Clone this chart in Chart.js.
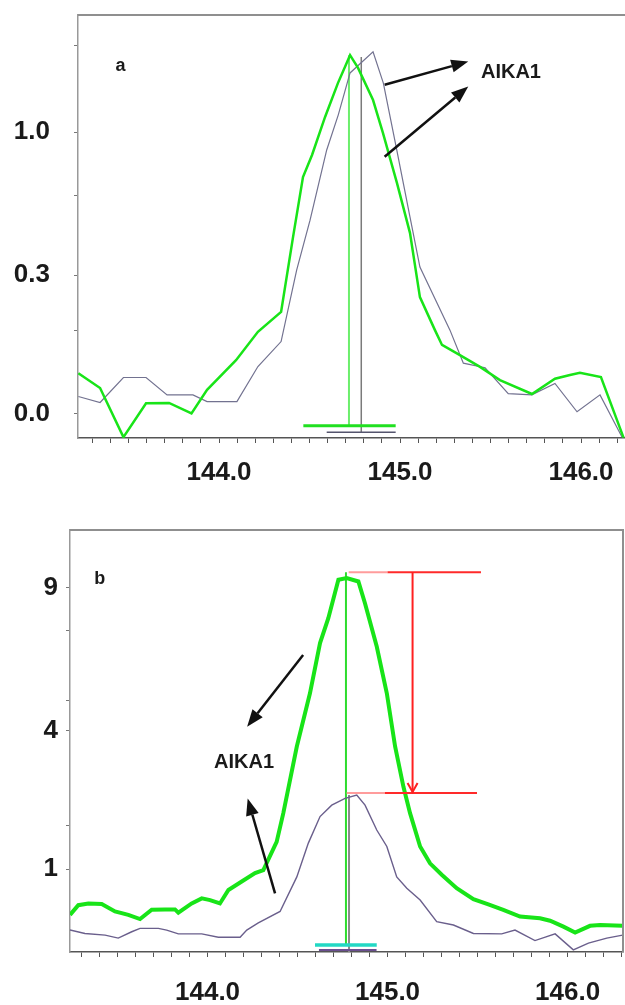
<!DOCTYPE html>
<html>
<head>
<meta charset="utf-8">
<script src="https://cdn.jsdelivr.net/npm/chart.js@4.4.1/dist/chart.umd.min.js"></script>
<style>
  html, body { margin: 0; padding: 0; background: #fff; }
  body { width: 625px; height: 1005px; position: relative; overflow: hidden; }
  canvas { position: absolute; left: 0; }
  #panelA { top: 0; }
  #panelB { top: 505px; }
</style>
</head>
<body>
<canvas id="panelA" width="625" height="500"></canvas>
<canvas id="panelB" width="625" height="500"></canvas>
<script>
// ---- panel a (m/z vs relative intensity, axis units 0..100) ----
const mzGreenA = [143.223, 143.343, 143.472, 143.597, 143.724, 143.848, 143.934, 144.094, 144.215, 144.343,
  144.409, 144.464, 144.514, 144.586, 144.657, 144.724, 144.768, 144.851, 144.906, 144.983,
  145.055, 145.110, 145.193, 145.232, 145.331, 145.442, 145.552, 145.729, 145.856, 145.939,
  145.994, 146.110, 146.235];
const intGreenA = [15.3, 11.8, 0.2, 8.2, 8.3, 5.8, 11.4, 18.4, 25.1, 29.8,
  47.5, 61.7, 66.9, 75.9, 83.9, 90.5, 87.5, 79.9, 72.1, 60.3,
  48.5, 33.3, 25.5, 22.0, 19.6, 16.8, 13.7, 10.4, 14.0, 14.9,
  15.4, 14.4, 0.1];
const mzGrayA = [143.223, 143.343, 143.472, 143.597, 143.713, 143.856, 143.934, 144.099, 144.215, 144.343,
  144.429, 144.503, 144.595, 144.659, 144.724, 144.851, 144.908, 144.982, 145.055, 145.110,
  145.276, 145.350, 145.470, 145.598, 145.728, 145.856, 145.978, 146.105, 146.227];
const intGrayA = [9.8, 8.4, 14.3, 14.3, 10.2, 10.2, 8.6, 8.6, 16.9, 22.8,
  39.7, 51.5, 68.1, 76.4, 86.3, 91.3, 83.9, 68.1, 52.3, 40.4,
  25.5, 17.7, 16.6, 10.5, 10.2, 12.9, 6.2, 10.2, 0.2];
// centroid sticks and interval bars (green, gray)
const stickXA = [144.718, 144.786];
const stickTopA = [90.5, 90.1];
const stickBottomA = [2.9, 1.4];
const barFromA = [144.466, 144.595];
const barToA = [144.976, 144.976];
const barLevelA = [2.9, 1.35];

// ---- panel b ----
const mzGreenB = [143.236, 143.282, 143.338, 143.412, 143.486, 143.560, 143.625, 143.690, 143.764, 143.819,
  143.838, 143.912, 143.968, 144.014, 144.069, 144.116, 144.190, 144.264, 144.310, 144.384,
  144.421, 144.496, 144.569, 144.625, 144.671, 144.727, 144.773, 144.838, 144.875, 144.940,
  144.996, 145.042, 145.088, 145.125, 145.181, 145.236, 145.301, 145.384, 145.477, 145.560,
  145.643, 145.736, 145.847, 145.903, 145.977, 146.042, 146.125, 146.181, 146.306];
const intGreenB = [8.8, 11.1, 11.5, 11.4, 9.6, 8.8, 7.8, 10.0, 10.1, 10.1,
  9.3, 11.5, 12.7, 12.3, 11.5, 14.7, 16.7, 18.7, 19.4, 26.1,
  32.9, 48.7, 61.3, 73.2, 79.1, 88.2, 88.6, 87.8, 82.6, 72.4,
  61.3, 48.7, 39.2, 32.9, 25.0, 21.0, 18.3, 15.1, 12.5, 11.3,
  10.0, 8.4, 8.0, 7.4, 6.0, 4.6, 6.2, 6.4, 6.2];
const mzGrayB = [143.236, 143.319, 143.431, 143.504, 143.579, 143.625, 143.727, 143.773, 143.838, 143.968,
  144.060, 144.181, 144.218, 144.282, 144.403, 144.496, 144.560, 144.625, 144.690, 144.764,
  144.829, 144.875, 144.940, 144.996, 145.051, 145.107, 145.181, 145.273, 145.366, 145.477,
  145.634, 145.708, 145.819, 145.931, 146.032, 146.116, 146.218, 146.306];
const intGrayB = [5.2, 4.4, 4.0, 3.3, 4.8, 5.6, 5.6, 5.2, 4.3, 4.3,
  3.5, 3.5, 5.2, 6.9, 9.6, 17.8, 25.8, 32.1, 34.8, 36.4,
  37.2, 34.8, 28.9, 25.0, 17.8, 15.1, 12.3, 7.2, 6.4, 4.4,
  4.3, 5.2, 2.7, 4.3, 0.5, 2.1, 3.3, 4.0];
const stickXB = [144.769, 144.786];
const stickTopB = [90.0, 37.2];
const stickBottomB = [1.4, 0];
const barFromB = [144.597, 144.619];
const barToB = [144.940, 144.939];
const barLevelB = [1.66, 0.47];

// ---- axes ----
const xTickLabels = [144, 145, 146];
const yTicksA = [5.7, 25.5, 38.5, 57.4, 72.3, 92.9];
const yLabelsA = ['0.0', '', '0.3', '', '1.0', ''];
const yTicksB = [19.6, 29.9, 52.4, 59.7, 76.3, 86.3];
const yLabelsB = ['1', '', '4', '', '', '9'];

const FONT = "'Liberation Sans', Arial, sans-serif";
Chart.defaults.font.family = FONT;

const pts = (xs, ys) => xs.map((x, i) => ({ x, y: ys[i] }));

function arrow(ctx, x0, y0, x1, y1, color, w, len, half, open) {
  const ang = Math.atan2(y1 - y0, x1 - x0);
  const bx = x1 - len * Math.cos(ang), by = y1 - len * Math.sin(ang);
  const nx = -Math.sin(ang) * half, ny = Math.cos(ang) * half;
  ctx.strokeStyle = color; ctx.fillStyle = color; ctx.lineWidth = w;
  ctx.beginPath(); ctx.moveTo(x0, y0);
  ctx.lineTo(open ? x1 : bx, open ? y1 : by); ctx.stroke();
  ctx.beginPath();
  ctx.moveTo(bx + nx, by + ny); ctx.lineTo(x1, y1); ctx.lineTo(bx - nx, by - ny);
  if (open) ctx.stroke(); else { ctx.closePath(); ctx.fill(); }
}

// frame, arrows, labels, red level markers
const decor = {
  id: 'decor',
  afterDatasetsDraw(chart, args, o) {
    const { ctx, chartArea: a } = chart;
    const px = v => chart.scales.x.getPixelForValue(v);
    const py = v => chart.scales.y.getPixelForValue(v);
    ctx.save();
    ctx.strokeStyle = '#8f8f8f'; ctx.lineWidth = 2;
    ctx.beginPath(); ctx.moveTo(a.left, a.top); ctx.lineTo(a.right, a.top);
    if (o.rightBorder) ctx.lineTo(a.right, a.bottom);
    ctx.stroke();

    (o.levels || []).forEach(l => {
      ctx.lineWidth = 2;
      ctx.strokeStyle = '#ff9c9c';
      ctx.beginPath(); ctx.moveTo(px(l.x0), py(l.y)); ctx.lineTo(px(l.solid), py(l.y)); ctx.stroke();
      ctx.strokeStyle = '#ff2a2a';
      ctx.beginPath(); ctx.moveTo(px(l.solid), py(l.y)); ctx.lineTo(px(l.x1), py(l.y)); ctx.stroke();
    });
    (o.redArrows || []).forEach(r => {
      arrow(ctx, px(r.x), py(r.y0), px(r.x), py(r.y1), '#ff2020', 2, 9, 5, true);
    });
    (o.arrows || []).forEach(r => {
      arrow(ctx, px(r.x0), py(r.y0), px(r.x1), py(r.y1), '#111', 2.5, 17, 6.5, false);
    });
    (o.texts || []).forEach(t => {
      ctx.font = 'bold ' + t.size + 'px ' + FONT;
      ctx.fillStyle = '#1a1a1a';
      ctx.textAlign = 'center'; ctx.textBaseline = 'middle';
      ctx.fillText(t.text, px(t.x), py(t.y));
    });
    ctx.restore();
  }
};

function lineSet(data, color, width) {
  return { data, borderColor: color, borderWidth: width, pointRadius: 0, fill: false, tension: 0 };
}

function makeChart(id, p) {
  const datasets = [];
  p.sticks.x.forEach((x, i) => {
    datasets.push(lineSet([{ x, y: p.sticks.top[i] }, { x, y: p.sticks.bottom[i] }], p.stickColors[i], p.stickWidths[i]));
  });
  p.bars.from.forEach((x0, i) => {
    datasets.push(lineSet([{ x: x0, y: p.bars.level[i] }, { x: p.bars.to[i], y: p.bars.level[i] }], p.barColors[i], p.barWidths[i]));
  });
  datasets.push(lineSet(pts(p.grayX, p.grayY), p.grayColor, p.grayWidth));
  datasets.push(lineSet(pts(p.greenX, p.greenY), '#18e418', p.greenWidth));
  datasets.forEach((d, i) => { d.order = datasets.length - i; });

  return new Chart(document.getElementById(id), {
    type: 'line',
    data: { datasets },
    plugins: [decor],
    options: {
      responsive: false,
      animation: false,
      devicePixelRatio: 1,
      layout: { padding: { top: p.top, right: p.right, left: 0, bottom: 0 } },
      plugins: { legend: { display: false }, tooltip: { enabled: false }, decor: p.decor },
      scales: {
        x: {
          type: 'linear', min: p.xMin, max: p.xMax,
          afterFit: s => { s.height = p.xHeight; s.paddingLeft = 0; s.paddingRight = 0; },
          ticks: {
            stepSize: 0.1, includeBounds: false, autoSkip: false, maxRotation: 0,
            padding: p.xPad, color: '#1a1a1a',
            font: { size: 26, weight: 'bold' },
            callback: v => xTickLabels.some(t => Math.abs(t - v) < 1e-6) ? v.toFixed(1) : ''
          },
          grid: { drawOnChartArea: false, tickLength: 5, tickColor: '#555', tickWidth: 1 },
          border: { color: '#555', width: 1.5 }
        },
        y: {
          type: 'linear', min: 0, max: 100,
          afterBuildTicks: s => { s.ticks = p.yTicks.map(v => ({ value: v })); },
          afterFit: s => { s.width = p.yWidth; s.paddingTop = 0; s.paddingBottom = 0; },
          ticks: {
            padding: p.yPad, color: '#1a1a1a',
            font: { size: 26, weight: 'bold' },
            callback: (v, i) => p.yLabels[i] || ''
          },
          grid: { drawOnChartArea: false, tickLength: 4, tickColor: '#777', tickWidth: 1 },
          border: { color: '#999', width: 1.5 }
        }
      }
    }
  });
}

makeChart('panelA', {
  greenX: mzGreenA, greenY: intGreenA, greenWidth: 2.5,
  grayX: mzGrayA, grayY: intGrayA, grayColor: '#727290', grayWidth: 1.2,
  sticks: { x: stickXA, top: stickTopA, bottom: stickBottomA },
  stickColors: ['#6cee6c', '#7a7a7a'], stickWidths: [2, 1.5],
  bars: { from: barFromA, to: barToA, level: barLevelA },
  barColors: ['#20e020', '#55556e'], barWidths: [3, 1.5],
  xMin: 143.221, xMax: 146.243, xHeight: 62, xPad: 14,
  yTicks: yTicksA, yLabels: yLabelsA, yWidth: 78, yPad: 24,
  top: 15, right: 0,
  decor: {
    rightBorder: false,
    arrows: [
      { x0: 144.915, y0: 83.5, x1: 145.377, y1: 89.0 },
      { x0: 144.915, y0: 66.5, x1: 145.377, y1: 83.1 }
    ],
    texts: [
      { text: 'a', x: 143.456, y: 87.9, size: 18 },
      { text: 'AIKA1', x: 145.613, y: 86.3, size: 20 }
    ]
  }
});

makeChart('panelB', {
  greenX: mzGreenB, greenY: intGreenB, greenWidth: 4,
  grayX: mzGrayB, grayY: intGrayB, grayColor: '#6a5f8c', grayWidth: 1.4,
  sticks: { x: stickXB, top: stickTopB, bottom: stickBottomB },
  stickColors: ['#2edc2e', '#8a8a8a'], stickWidths: [2, 2],
  bars: { from: barFromB, to: barToB, level: barLevelB },
  barColors: ['#22d8c4', '#6a4f8f'], barWidths: [3.5, 2],
  xMin: 143.236, xMax: 146.308, xHeight: 53, xPad: 20,
  yTicks: yTicksB, yLabels: yLabelsB, yWidth: 70, yPad: 8,
  top: 25, right: 2,
  decor: {
    rightBorder: true,
    levels: [
      { x0: 144.784, solid: 145.000, x1: 145.519, y: 90.0 },
      { x0: 144.773, solid: 144.985, x1: 145.497, y: 37.7 }
    ],
    redArrows: [{ x: 145.139, y0: 90.0, y1: 37.9 }],
    arrows: [
      { x0: 144.531, y0: 70.4, x1: 144.220, y1: 53.4 },
      { x0: 144.375, y0: 13.9, x1: 144.223, y1: 36.4 }
    ],
    texts: [
      { text: 'b', x: 143.401, y: 88.4, size: 18 },
      { text: 'AIKA1', x: 144.203, y: 44.8, size: 20 }
    ]
  }
});
</script>
</body>
</html>
